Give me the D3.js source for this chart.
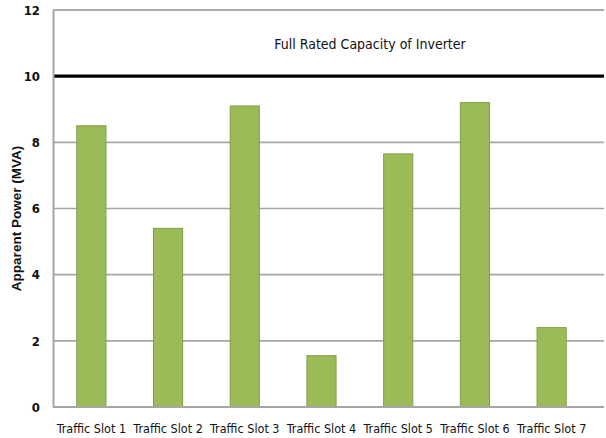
<!DOCTYPE html>
<html>
<head>
<meta charset="utf-8">
<script src="https://cdn.jsdelivr.net/npm/d3@7"></script>
<style>
  html, body { margin: 0; padding: 0; background: #fff; }
  svg { display: block; }
</style>
</head>
<body>
<svg id="chart" width="606" height="438"></svg>
<script>
// Apparent power per traffic slot
const slots = ["Traffic Slot 1", "Traffic Slot 2", "Traffic Slot 3", "Traffic Slot 4",
               "Traffic Slot 5", "Traffic Slot 6", "Traffic Slot 7"];
const powerMVA = [8.5, 5.4, 9.1, 1.55, 7.65, 9.2, 2.4];
const yTicks = [0, 2, 4, 6, 8, 10, 12];
const ratedCapacity = 10;
const capacityLabel = "Full Rated Capacity of Inverter";
const yTitle = "Apparent Power (MVA)";

const svg = d3.select("#chart");
const plotLeft = 53, plotRight = 590, plotTop = 10, plotBottom = 407, gridRight = 604;

const x = d3.scaleBand().domain(slots).range([plotLeft, plotRight]).paddingInner(0.62).paddingOuter(0.31);
const y = d3.scaleLinear().domain([0, 12]).range([plotBottom, plotTop]);

const narrow = "'Liberation Sans Narrow', 'Arial Narrow', 'DejaVu Sans Condensed', sans-serif";

// horizontal gridlines
svg.append("g").selectAll("line").data(yTicks.filter(d => d > 0 && d !== ratedCapacity))
  .join("line")
  .attr("x1", plotLeft).attr("x2", gridRight)
  .attr("y1", d => y(d)).attr("y2", d => y(d))
  .attr("stroke", "#a6a6a6").attr("stroke-width", 1.6);

// bars
svg.append("g").selectAll("rect").data(powerMVA).join("rect")
  .attr("x", (d, i) => x(slots[i]))
  .attr("width", x.bandwidth())
  .attr("y", d => y(d))
  .attr("height", d => y(0) - y(d))
  .attr("fill", "#9bbb59")
  .attr("stroke", "#7f9f45").attr("stroke-width", 1);

// rated capacity line
svg.append("line")
  .attr("x1", plotLeft).attr("x2", gridRight)
  .attr("y1", y(ratedCapacity)).attr("y2", y(ratedCapacity))
  .attr("stroke", "#000").attr("stroke-width", 3.2);

svg.append("text")
  .attr("x", 370).attr("y", 49)
  .attr("text-anchor", "middle")
  .attr("font-family", narrow).attr("font-size", 14)
  .attr("fill", "#111")
  .text(capacityLabel);

// axes
const yAxis = svg.append("g").attr("transform", `translate(${plotLeft},0)`)
  .call(d3.axisLeft(y).tickValues(yTicks).tickSize(0).tickPadding(13));
yAxis.select(".domain").attr("stroke", "#a6a6a6").attr("stroke-width", 2);
yAxis.selectAll("text").attr("font-family", narrow).attr("font-size", 13)
  .attr("font-weight", "bold").attr("fill", "#111");

const xAxis = svg.append("g").attr("transform", `translate(0,${plotBottom})`)
  .call(d3.axisBottom(x).tickSize(0).tickPadding(17));
xAxis.select(".domain").remove();
xAxis.selectAll("text").attr("font-family", narrow).attr("font-size", 12.5)
  .attr("fill", "#111");

// baseline and top frame
svg.append("line").attr("x1", plotLeft).attr("x2", gridRight)
  .attr("y1", y(0)).attr("y2", y(0)).attr("stroke", "#a6a6a6").attr("stroke-width", 2);
svg.append("line").attr("x1", plotLeft).attr("x2", gridRight)
  .attr("y1", y(12)).attr("y2", y(12)).attr("stroke", "#a6a6a6").attr("stroke-width", 1.6);

svg.append("text")
  .attr("transform", `translate(21,${(plotTop + plotBottom) / 2 + 10}) rotate(-90)`)
  .attr("text-anchor", "middle")
  .attr("font-family", "'Liberation Sans', Arial, sans-serif")
  .attr("font-size", 13.5).attr("font-weight", "bold").attr("fill", "#111")
  .text(yTitle);
</script>
</body>
</html>
